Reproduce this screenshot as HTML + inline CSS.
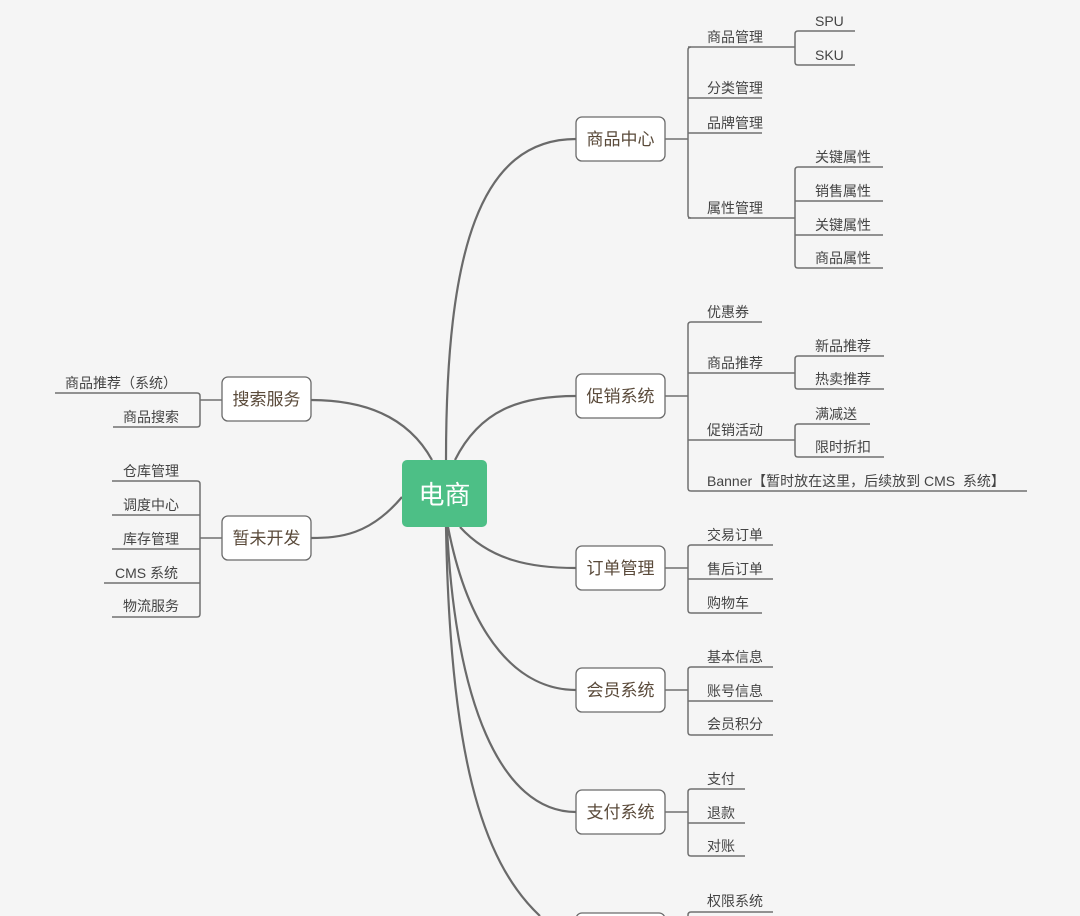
<!DOCTYPE html>
<html><head><meta charset="utf-8"><style>
html,body{margin:0;padding:0;background:#f5f5f5}
svg{display:block}
text{font-family:"Liberation Sans","Noto Sans CJK SC",sans-serif;font-size:14px;fill:#444}
.n{font-size:17px;fill:#5a4a3a;text-anchor:middle}
.l{fill:none;stroke:#707070;stroke-width:1.5}
.c{fill:none;stroke:#6a6a6a;stroke-width:2.2}
.b{fill:#fff;stroke:#6a6a6a;stroke-width:1.3}
</style></head><body>
<svg width="1080" height="916" viewBox="0 0 1080 916">
<!-- main curves -->
<path class="c" d="M446,460 C446,250 480,139 576,139"/>
<path class="c" d="M455,460 C480,410 520,396 576,396"/>
<path class="c" d="M460,527 C490,560 530,568 576,568"/>
<path class="c" d="M448,527 C470,640 520,690 576,690"/>
<path class="c" d="M447,527 C455,700 500,812 576,812"/>
<path class="c" d="M446,527 C450,750 480,860 540,916"/>
<path class="c" d="M432,460 C410,420 370,400 311,400"/>
<path class="c" d="M402,497 C370,535 340,538 311,538"/>
<!-- center -->
<rect x="402" y="460" width="85" height="67" rx="5" fill="#4dbf86"/>
<text x="444.5" y="504" style="font-size:26px;fill:#fff;text-anchor:middle">电商</text>
<!-- nodes -->
<rect class="b" x="576" y="117" width="89" height="44" rx="6"/><text class="n" x="620.5" y="145">商品中心</text>
<rect class="b" x="576" y="374" width="89" height="44" rx="6"/><text class="n" x="620.5" y="402">促销系统</text>
<rect class="b" x="576" y="546" width="89" height="44" rx="6"/><text class="n" x="620.5" y="574">订单管理</text>
<rect class="b" x="576" y="668" width="89" height="44" rx="6"/><text class="n" x="620.5" y="696">会员系统</text>
<rect class="b" x="576" y="790" width="89" height="44" rx="6"/><text class="n" x="620.5" y="818">支付系统</text>
<rect class="b" x="576" y="913" width="89" height="44" rx="6"/>
<rect class="b" x="222" y="377" width="89" height="44" rx="6"/><text class="n" x="266.5" y="405">搜索服务</text>
<rect class="b" x="222" y="516" width="89" height="44" rx="6"/><text class="n" x="266.5" y="544">暂未开发</text>
<!-- 商品中心 -->
<path class="l" d="M665,139H688M691,47Q688,47 688,50V215Q688,218 691,218"/>
<path class="l" d="M688,47H795M688,98H762M688,133H762M688,218H795"/>
<path class="l" d="M855,31H798Q795,31 795,34V62Q795,65 798,65H855"/>
<path class="l" d="M883,167H798Q795,167 795,170V265Q795,268 798,268H883M795,201H883M795,235H883"/>
<text x="707" y="42">商品管理</text><text x="707" y="93">分类管理</text><text x="707" y="128">品牌管理</text><text x="707" y="213">属性管理</text>
<text x="815" y="26">SPU</text><text x="815" y="60">SKU</text>
<text x="815" y="162">关键属性</text><text x="815" y="196">销售属性</text><text x="815" y="230">关键属性</text><text x="815" y="263">商品属性</text>
<!-- 促销 -->
<path class="l" d="M665,396H688M762,322H691Q688,322 688,325V488Q688,491 691,491H1027M688,373H795M688,440H795"/>
<path class="l" d="M884,356H798Q795,356 795,359V386Q795,389 798,389H884"/>
<path class="l" d="M870,424H798Q795,424 795,427V454Q795,457 798,457H884"/>
<text x="707" y="317">优惠券</text><text x="707" y="368">商品推荐</text><text x="707" y="435">促销活动</text>
<text x="707" y="486">Banner【暂时放在这里，后续放到 CMS&#160; 系统】</text>
<text x="815" y="351">新品推荐</text><text x="815" y="384">热卖推荐</text><text x="815" y="419">满减送</text><text x="815" y="452">限时折扣</text>
<!-- 订单 -->
<path class="l" d="M665,568H688M773,545H691Q688,545 688,548V610Q688,613 691,613H762M688,579H773"/>
<text x="707" y="540">交易订单</text><text x="707" y="574">售后订单</text><text x="707" y="608">购物车</text>
<!-- 会员 -->
<path class="l" d="M665,690H688M773,667H691Q688,667 688,670V732Q688,735 691,735H773M688,701H773"/>
<text x="707" y="662">基本信息</text><text x="707" y="696">账号信息</text><text x="707" y="729">会员积分</text>
<!-- 支付 -->
<path class="l" d="M665,812H688M745,789H691Q688,789 688,792V853Q688,856 691,856H745M688,823H745"/>
<text x="707" y="784">支付</text><text x="707" y="818">退款</text><text x="707" y="851">对账</text>
<!-- 权限 -->
<path class="l" d="M665,935H688M773,912H691Q688,912 688,915V935"/>
<text x="707" y="906">权限系统</text>
<!-- 搜索 -->
<path class="l" d="M222,400H200M55,393H197Q200,393 200,396V424Q200,427 197,427H113"/>
<text x="65" y="388">商品推荐（系统）</text><text x="123" y="422">商品搜索</text>
<!-- 暂未开发 -->
<path class="l" d="M222,538H200M112,481H197Q200,481 200,484V614Q200,617 197,617H112M112,515H200M112,549H200M104,583H200"/>
<text x="123" y="476">仓库管理</text><text x="123" y="510">调度中心</text><text x="123" y="544">库存管理</text><text x="115" y="578">CMS 系统</text><text x="123" y="611">物流服务</text>
</svg>
</body></html>
